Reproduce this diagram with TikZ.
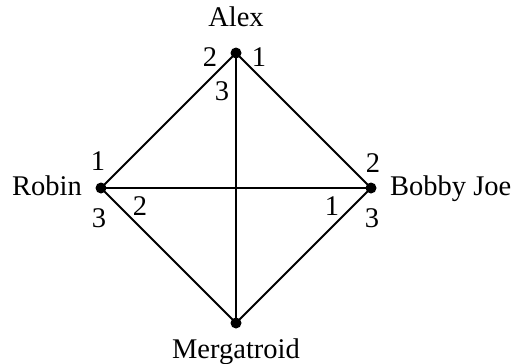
\documentclass[tikz,border=0pt]{standalone}
\usepackage{fontspec}
\setmainfont{Liberation Serif}
\begin{document}
\begin{tikzpicture}[x=1pt,y=-1pt,
  vtx/.style={circle,fill=black,inner sep=0pt,minimum size=11pt},
  lbl/.style={inner sep=0pt,anchor=base,font=\fontsize{28.5}{34}\selectfont},
  edge/.style={line width=1.8pt}]
\useasboundingbox (0,0) rectangle (514,364);
\node[vtx] (A) at (236,53) {};
\node[vtx] (R) at (101,188) {};
\node[vtx] (B) at (371,188) {};
\node[vtx] (M) at (236,323) {};
\draw[edge] (A.center) -- (R.center);
\draw[edge] (A.center) -- (B.center);
\draw[edge] (A.center) -- (M.center);
\draw[edge] (R.center) -- (B.center);
\draw[edge] (R.center) -- (M.center);
\draw[edge] (B.center) -- (M.center);
\node[lbl] (tA) at (236,27) {Alex};
\node[lbl,anchor=base east] (tR) at (82,195) {Robin};
\node[lbl,anchor=base west] (tB) at (390,195) {Bobby Joe};
\node[lbl] (tM) at (236,358) {Mergatroid};
\node[lbl] (a2) at (210,66) {2};
\node[lbl] (a1) at (259,66) {1};
\node[lbl] (a3) at (222,100) {3};
\node[lbl] (r1) at (98,170) {1};
\node[lbl] (r3) at (99,227) {3};
\node[lbl] (r2) at (140,215) {2};
\node[lbl] (b2) at (373,172) {2};
\node[lbl] (b3) at (372,227) {3};
\node[lbl] (b1) at (332,215) {1};
\end{tikzpicture}
\end{document}
